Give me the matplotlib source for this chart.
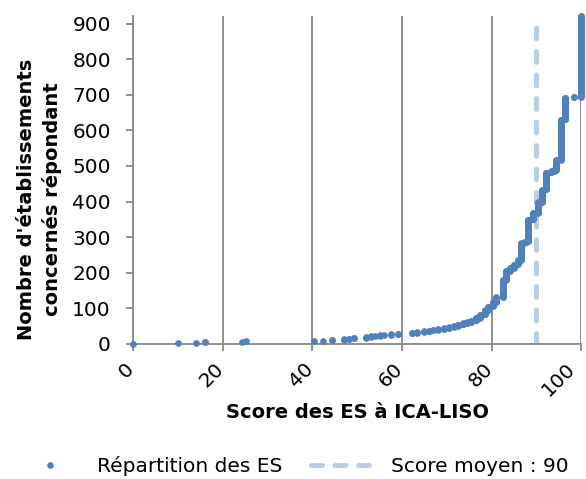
import numpy as np
import matplotlib
matplotlib.use("Agg")
import matplotlib.pyplot as plt
from matplotlib.transforms import ScaledTranslation

# score des ES (valeurs distinctes, triées) et nombre d'ES ayant ce score
scores = [0, 10, 14, 16, 24.4, 25.3, 40.3, 42.3, 44.3, 47, 48.2, 49.3,
          52, 53, 54, 55, 56, 57.5, 59.2, 62.2, 63.3, 65, 66, 67, 68, 69.4,
          70.5, 71.5, 72.5, 73.5, 74.5, 75.5, 76.5, 77.5, 78.5, 79.2, 80.3, 81,
          82.5, 83.2, 84.2, 85, 85.8, 86.6, 87.2, 87.7, 88.2, 89.2, 90.3, 91.2,
          92.2, 93.3, 94, 94.4, 95.4, 96.3, 98.3, 100]
counts = [1, 1, 1, 2, 1, 1, 1, 1, 2, 2, 2, 2,
          2, 2, 1, 2, 1, 2, 2, 2, 2, 2, 2, 2, 2, 3,
          3, 3, 4, 4, 3, 4, 8, 9, 12, 11, 12, 14,
          49, 25, 8, 10, 13, 47, 2, 2, 62, 19, 30, 35,
          48, 4, 4, 28, 113, 62, 2, 228]
mean_score = 90

x_ticks = [0, 20, 40, 60, 80, 100]
y_ticks = [0, 100, 200, 300, 400, 500, 600, 700, 800, 900]

plt.rcParams['font.family'] = ['DejaVu Sans']
plt.rcParams['font.size'] = 14.5

blue = '#4F81BD'
light_blue = '#B9CDE5'
grey = '#878787'

es_scores = np.repeat(scores, counts)
rank = np.arange(1, len(es_scores) + 1)

fig = plt.figure(figsize=(5.86, 4.79), dpi=100)
ax = fig.add_axes([0.227, 0.282, 0.765, 0.685])

ax.axvline(mean_score, color=light_blue, lw=3.6, ls=(0, (2.2, 2.5)),
           dash_capstyle='round', zorder=2, label='Score moyen : %d' % mean_score)
ax.plot(es_scores, rank, ls='none', marker='o', ms=4.8, mew=0, color=blue,
        clip_on=False, zorder=3, label='Répartition des ES')

ax.set_xlim(0, 100)
ax.set_ylim(0, len(es_scores))
ax.set_xticks(x_ticks)
ax.set_yticks(y_ticks)

ax.set_axisbelow(True)
ax.xaxis.grid(True, color=grey, lw=1.3)
for side in ['top', 'right']:
    ax.spines[side].set_visible(False)
for side in ['left', 'bottom']:
    ax.spines[side].set_color(grey)
    ax.spines[side].set_linewidth(1.3)
ax.tick_params(axis='both', direction='out', length=5, width=1.3, color=grey)
ax.tick_params(axis='x', pad=11)
ax.tick_params(axis='y', pad=11)

ax.set_xticklabels([str(v) for v in x_ticks], rotation=45, ha='right',
                   va='center', rotation_mode='anchor')
# petit décalage vers la gauche, un peu plus pour "100" qui touche le bord
# (à faire après tick_params, qui remet les transforms à zéro)
for i, lab in enumerate(ax.get_xticklabels()):
    dx = -9 if i == len(x_ticks) - 1 else -2
    lab.set_transform(lab.get_transform() + ScaledTranslation(dx / 100, 0, fig.dpi_scale_trans))

ax.set_xlabel('Score des ES à ICA-LISO', fontweight='bold', fontsize=14)
ax.xaxis.set_label_coords(0.5, -0.18)
ax.set_ylabel("Nombre d'établissements\nconcernés répondant", fontweight='bold',
              fontsize=14, linespacing=1.4)
ax.yaxis.set_label_coords(-0.158, 0.44)

handles, labels = ax.get_legend_handles_labels()
fig.legend(handles[::-1], labels[::-1], loc='center', bbox_to_anchor=(0.5, 0.027),
           ncol=2, frameon=False, handlelength=3.2, handletextpad=0.75,
           columnspacing=1.4, borderaxespad=0, borderpad=0)

fig.savefig('out.png', dpi=100)
